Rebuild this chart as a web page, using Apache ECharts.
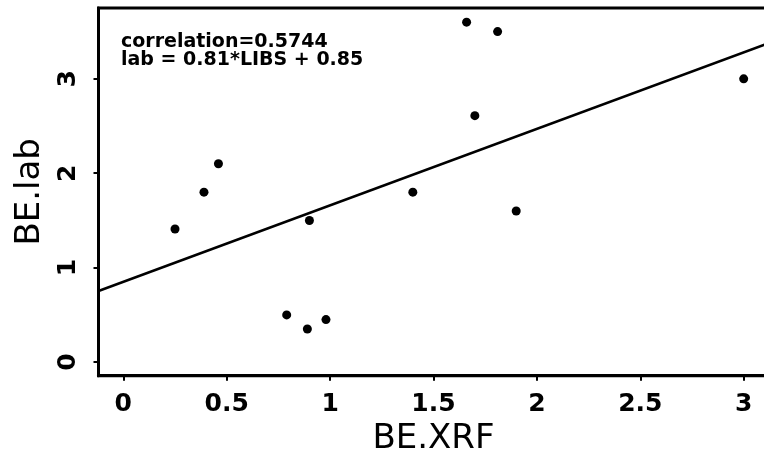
<!DOCTYPE html>
<html>
<head>
<meta charset="utf-8">
<script src="https://cdn.jsdelivr.net/npm/echarts@6/dist/echarts.min.js"></script>
<style>
  html, body { margin: 0; padding: 0; background: #fff; }
  #chart { width: 764px; height: 459px; }
</style>
</head>
<body>
<div id="chart"></div>
<script>
// BE measured by XRF (x) against the laboratory value (y)
const beXrf = [0.25, 0.39, 0.46, 0.79, 0.89, 0.90, 0.98, 1.40, 1.66, 1.70, 1.81, 1.90, 3.00];
const beLab = [1.41, 1.80, 2.10, 0.50, 0.35, 1.50, 0.45, 1.80, 3.60, 2.61, 3.50, 1.60, 3.00];

// Tick positions on each axis
const xTicks = [0, 0.5, 1, 1.5, 2, 2.5, 3];
const yTicks = [0, 1, 2, 3];

// Fitted line and correlation shown in the annotation
const fitSlope = 0.81;
const fitIntercept = 0.85;
const correlation = 0.5744;

// Plot extents (data range padded on both sides)
const xRange = [-0.12, 3.12];
const yRange = [-0.144, 3.75];

const points = beXrf.map((x, i) => [x, beLab[i]]);
const fitLine = xRange.map(x => [x, fitSlope * x + fitIntercept]);

const tickFont = { fontFamily: 'DejaVu Sans', fontWeight: 'bold', fontSize: 25, color: '#000' };
const nameFont = { fontFamily: 'DejaVu Sans', fontWeight: 'normal', fontSize: 34, color: '#000' };

const chart = echarts.init(document.getElementById('chart'), null, { renderer: 'canvas' });

chart.setOption({
  animation: false,
  backgroundColor: '#fff',
  grid: {
    left: 98.5, top: 8, width: 670, height: 367.7,
    outerBoundsMode: 'none',
    containLabel: false,
    show: true, borderColor: '#000', borderWidth: 3, backgroundColor: 'transparent'
  },
  xAxis: {
    type: 'value',
    min: xRange[0], max: xRange[1],
    splitLine: { show: false },
    axisLine: { show: true, onZero: false, lineStyle: { color: '#000', width: 3 } },
    axisTick: { show: true, customValues: xTicks, length: 5, lineStyle: { color: '#000', width: 2 } },
    axisLabel: Object.assign({ customValues: xTicks, margin: 16 }, tickFont),
    name: 'BE.XRF',
    nameLocation: 'middle',
    nameGap: 46,
    nameTextStyle: nameFont
  },
  yAxis: {
    type: 'value',
    min: yRange[0], max: yRange[1],
    splitLine: { show: false },
    axisLine: { show: true, onZero: false, lineStyle: { color: '#000', width: 3 } },
    axisTick: { show: true, customValues: yTicks, length: 5, lineStyle: { color: '#000', width: 2 } },
    axisLabel: Object.assign({ customValues: yTicks, margin: 18, rotate: 90 }, tickFont),
    name: 'BE.lab',
    nameLocation: 'middle',
    nameGap: 47,
    nameRotate: 90,
    nameTextStyle: nameFont
  },
  graphic: [{
    type: 'text',
    left: 121,
    top: 33,
    silent: true,
    style: {
      text: 'correlation=' + correlation.toFixed(4) + '\n' +
            'lab = ' + fitSlope.toFixed(2) + '*LIBS + ' + fitIntercept.toFixed(2),
      font: 'bold 19px "DejaVu Sans"',
      lineHeight: 17.6,
      fill: '#000'
    }
  }],
  series: [
    {
      type: 'line',
      data: fitLine,
      showSymbol: false,
      silent: true,
      clip: true,
      lineStyle: { color: '#000', width: 2.5 }
    },
    {
      type: 'scatter',
      data: points,
      symbol: 'circle',
      symbolSize: 9,
      itemStyle: { color: '#000', opacity: 1 }
    }
  ]
});
</script>
</body>
</html>
